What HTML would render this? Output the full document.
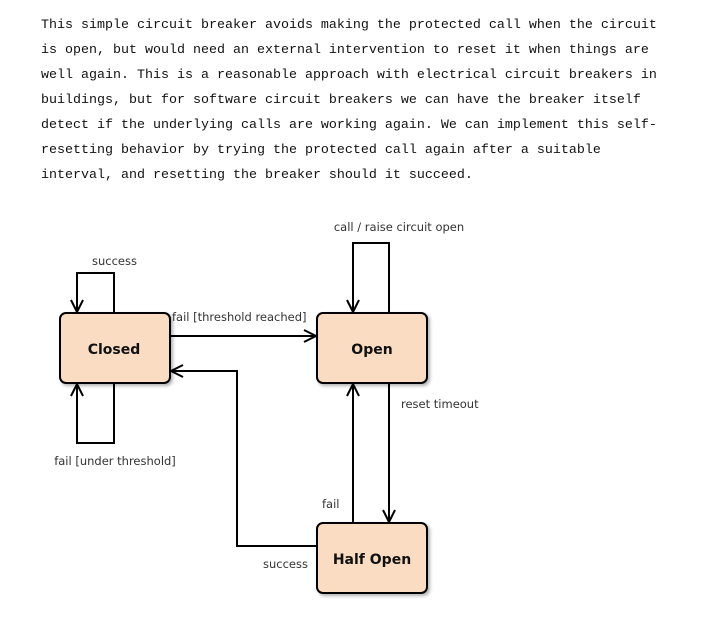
<!DOCTYPE html>
<html><head><meta charset="utf-8"><style>
html,body{margin:0;padding:0;background:#fff;width:725px;height:619px;overflow:hidden}
.p{position:absolute;left:41px;top:13px;font-family:"Liberation Mono","Noto Sans CJK SC",monospace;font-size:13.33px;line-height:25px;color:#111;white-space:pre;letter-spacing:0}
svg{position:absolute;left:0;top:0}
text{font-family:"DejaVu Sans","Liberation Sans",sans-serif;font-size:11.5px;fill:#333}
.b{font-weight:bold;font-size:14px;fill:#111}
</style></head><body>
<div class="p">This simple circuit breaker avoids making the protected call when the circuit
is open, but would need an external intervention to reset it when things are
well again. This is a reasonable approach with electrical circuit breakers in
buildings, but for software circuit breakers we can have the breaker itself
detect if the underlying calls are working again. We can implement this self-
resetting behavior by trying the protected call again after a suitable
interval, and resetting the breaker should it succeed.</div>
<svg width="725" height="619" viewBox="0 0 725 619">
<defs>
<filter id="s" x="-10%" y="-10%" width="130%" height="130%"><feDropShadow dx="2" dy="2" stdDeviation="1.5" flood-color="#000" flood-opacity="0.3"/></filter>
</defs>
<g fill="none" stroke="#000" stroke-width="2">
<polyline points="114,313 114,273 77,273 77,312"/>
<polyline points="71,300 77,312 83,300"/>
<polyline points="114,383 114,443 77,443 77,384"/>
<polyline points="71,396 77,384 83,396"/>
<polyline points="170,336 316,336"/>
<polyline points="304,330 316,336 304,342"/>
<polyline points="317,546 237,546 237,371 171,371"/>
<polyline points="183,365 171,371 183,377"/>
<polyline points="389,313 389,243 353,243 353,312"/>
<polyline points="347,300 353,312 359,300"/>
<polyline points="389,383 389,522"/>
<polyline points="383,510 389,522 395,510"/>
<polyline points="353,523 353,384"/>
<polyline points="347,396 353,384 359,396"/>
</g>
<g fill="#fadcc3" stroke="#000" stroke-width="2" filter="url(#s)">
<rect x="60" y="313" width="110" height="70" rx="6"/>
<rect x="317" y="313" width="110" height="70" rx="6"/>
<rect x="317" y="523" width="110" height="70" rx="6"/>
</g>
<text class="b" x="114" y="354" text-anchor="middle">Closed</text>
<text class="b" x="372" y="354" text-anchor="middle">Open</text>
<text class="b" x="372" y="564" text-anchor="middle">Half Open</text>
<text x="92" y="265">success</text>
<text x="172" y="321">fail [threshold reached]</text>
<text x="115" y="465" text-anchor="middle">fail [under threshold]</text>
<text x="399" y="231" text-anchor="middle">call / raise circuit open</text>
<text x="401" y="408">reset timeout</text>
<text x="322" y="508">fail</text>
<text x="263" y="568">success</text>
</svg>
</body></html>
